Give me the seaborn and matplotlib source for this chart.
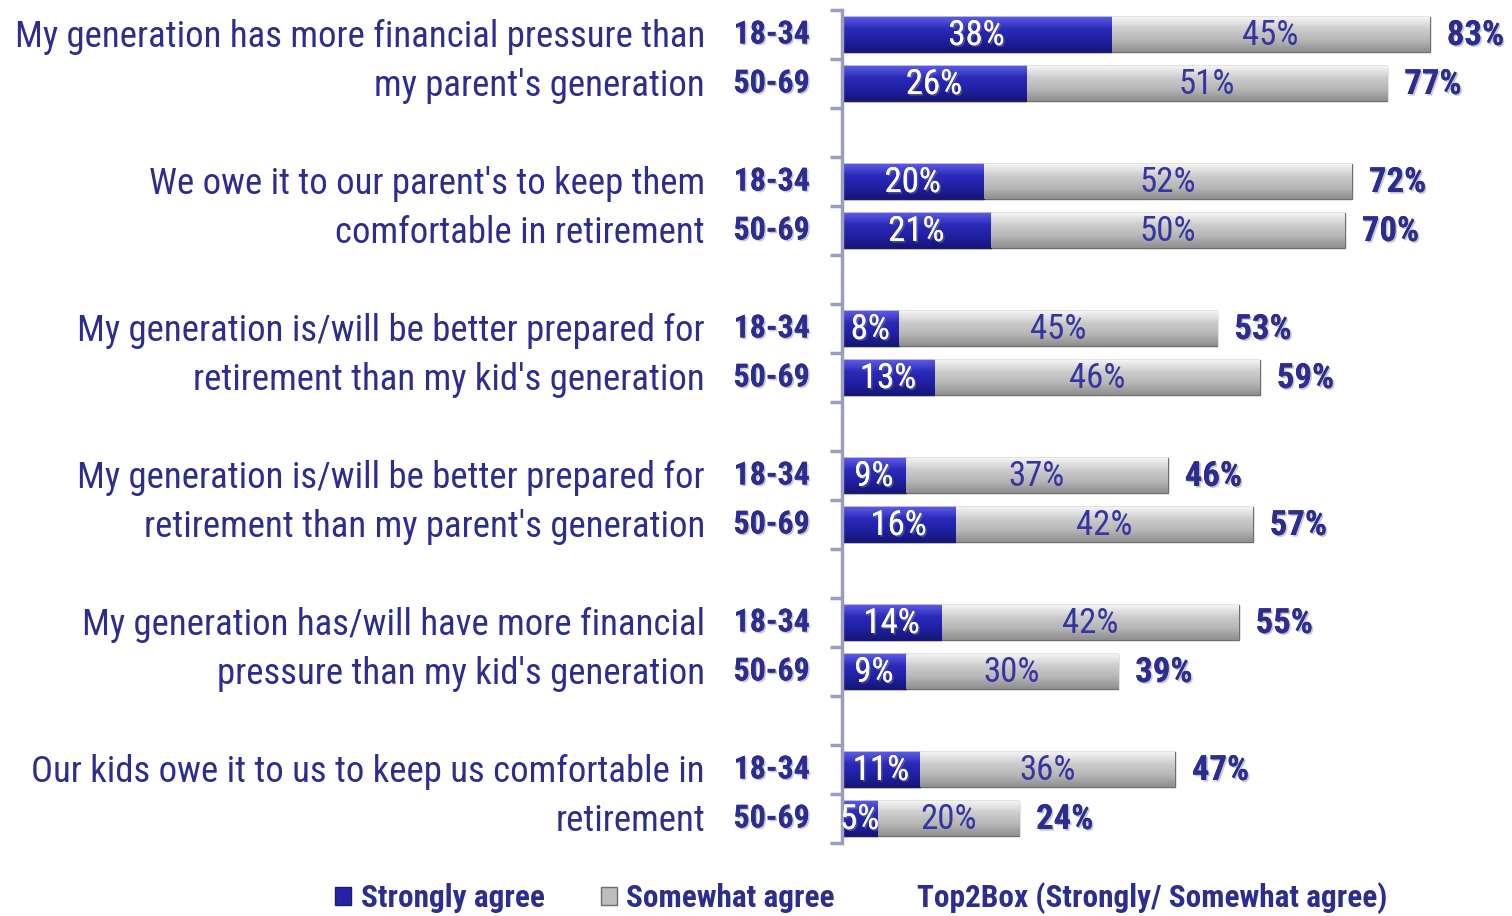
import numpy as np
import pandas as pd
import seaborn as sns
import matplotlib.pyplot as plt
from matplotlib.patches import Patch
from matplotlib.colors import LinearSegmentedColormap
from matplotlib.transforms import blended_transform_factory
import matplotlib.patheffects as pe

# statements (two lines each), age groups and values
statements = [
    ("My generation has more financial pressure than", "my parent's generation"),
    ("We owe it to our parent's to keep them", "comfortable in retirement"),
    ("My generation is/will be better prepared for", "retirement than my kid's generation"),
    ("My generation is/will be better prepared for", "retirement than my parent's generation"),
    ("My generation has/will have more financial", "pressure than my kid's generation"),
    ("Our kids owe it to us to keep us comfortable in", "retirement"),
]
ages = ['18-34', '50-69']
strongly_1834 = [38, 20, 8, 9, 14, 11]
somewhat_1834 = [45, 52, 45, 37, 42, 36]
top2_1834 = [83, 72, 53, 46, 55, 47]
strongly_5069 = [26, 21, 13, 16, 9, 5]
somewhat_5069 = [51, 50, 46, 42, 30, 20]
top2_5069 = [77, 70, 59, 57, 39, 24]

NAVY = '#2D2D90'
AXIS = '#9C9CC0'

sns.set_style('white')
plt.rcParams['font.family'] = ['Roboto Condensed', 'PT Sans Narrow', 'DejaVu Sans']

rows = []
for i in range(len(statements)):
    rows.append(dict(slot=f'{i}a', age=ages[0], strongly=strongly_1834[i],
                     somewhat=somewhat_1834[i], top2=top2_1834[i]))
    rows.append(dict(slot=f'{i}b', age=ages[1], strongly=strongly_5069[i],
                     somewhat=somewhat_5069[i], top2=top2_5069[i]))
df = pd.DataFrame(rows)
df['total'] = df['strongly'] + df['somewhat']

# empty slot between the statement groups
order = []
for i in range(len(statements)):
    order += [f'{i}a', f'{i}b']
    if i < len(statements) - 1:
        order.append(f'{i}s')

fig = plt.figure(figsize=(15.12, 9.16), dpi=100)
ax = fig.add_axes([842 / 1512, 1 - 843 / 916, 1 - 842 / 1512, (843 - 10) / 916])

sns.barplot(data=df, y='slot', x='total', order=order, orient='h',
            color='#C4C4C4', width=0.71, edgecolor='#6E6E6E', linewidth=1,
            saturation=1, ax=ax)
sns.barplot(data=df, y='slot', x='strongly', order=order, orient='h',
            color='#2424A8', width=0.71, edgecolor='#1C1C70', linewidth=1,
            saturation=1, ax=ax)

# glossy vertical gradient on each bar
grad = np.linspace(0, 1, 64).reshape(-1, 1)
gray_cmap = LinearSegmentedColormap.from_list('g', ['#F4F4F4', '#CCCCCC', '#B6B6B6', '#8E8E8E'])
blue_cmap = LinearSegmentedColormap.from_list('b', ['#5A5AE6', '#2A2AB8', '#2020A4', '#161676'])
n_bars = len(df)
for k, p in enumerate(ax.patches):
    if p.get_width() == 0 or np.isnan(p.get_width()):
        continue
    cmap = gray_cmap if k < n_bars else blue_cmap
    x0, y0, w, h = p.get_x(), p.get_y(), p.get_width(), p.get_height()
    im = ax.imshow(grad, cmap=cmap, aspect='auto', interpolation='bicubic',
                   extent=(x0, x0 + w, y0 + h, y0), zorder=p.get_zorder() + 0.1)
    im.set_clip_path(p)

ax.set_xlim(0, 94.6)
ax.set_ylim(len(order) - 0.5, -0.5)

shadow = [pe.withSimplePatchShadow(offset=(1.2, -1.2), shadow_rgbFace='#8080A0', alpha=0.45),
          pe.Normal()]

pos = {s: j for j, s in enumerate(order)}
for _, r in df.iterrows():
    y = pos[r['slot']]
    ax.text(r['strongly'] / 2, y + 0.02, f"{r['strongly']}%", ha='center', va='center',
            color='white', fontsize=25, zorder=10, path_effects=shadow)
    ax.text(r['strongly'] + r['somewhat'] / 2, y + 0.02, f"{r['somewhat']}%", ha='center',
            va='center', color='#3535A0', fontsize=25, zorder=10)
    ax.text(r['total'] + 2.4, y + 0.02, f"{r['top2']}%", ha='left', va='center',
            color=NAVY, fontsize=25, fontweight='bold', zorder=10, path_effects=shadow)

trans = blended_transform_factory(ax.transAxes, ax.transData)
for i, (l1, l2) in enumerate(statements):
    ya, yb = pos[f'{i}a'], pos[f'{i}b']
    ax.text(-0.2045, ya + 0.06, l1, transform=trans, ha='right', va='center',
            color=NAVY, fontsize=26.5)
    ax.text(-0.2045, yb + 0.06, l2, transform=trans, ha='right', va='center',
            color=NAVY, fontsize=26.5)
    ax.text(-0.048, ya, ages[0], transform=trans, ha='right', va='center',
            color=NAVY, fontsize=23, fontweight='bold', path_effects=shadow)
    ax.text(-0.048, yb, ages[1], transform=trans, ha='right', va='center',
            color=NAVY, fontsize=23, fontweight='bold', path_effects=shadow)

# axis: left spine with ticks between slots
for s in ['top', 'right', 'bottom']:
    ax.spines[s].set_visible(False)
ax.spines['left'].set_color(AXIS)
ax.spines['left'].set_linewidth(2.5)
ax.set_yticks([])
ax.set_yticks(np.arange(-0.5, len(order), 1), minor=True)
ax.tick_params(axis='y', which='minor', left=True, length=9, width=2.5, color=AXIS)
ax.set_xticks([])
ax.set_xlabel('')
ax.set_ylabel('')

handles = [Patch(facecolor='#2424A8', edgecolor='#1C1C70', label='Strongly agree'),
           Patch(facecolor='#BDBDBD', edgecolor='#6E6E6E', label='Somewhat agree')]
fig.legend(handles=handles, loc='center left', bbox_to_anchor=(335 / 1512, 1 - 898 / 916),
           ncol=2, frameon=False, handlelength=0.52, handleheight=0.52,
           handletextpad=0.3, columnspacing=1.8, borderpad=0, borderaxespad=0,
           prop={'size': 22.5, 'weight': 'bold'}, labelcolor=NAVY)
fig.text(917 / 1512, 1 - 898 / 916, 'Top2Box (Strongly/ Somewhat agree)', ha='left',
         va='center', color=NAVY, fontsize=22.5, fontweight='bold')

fig.savefig('out.png', dpi=100)
